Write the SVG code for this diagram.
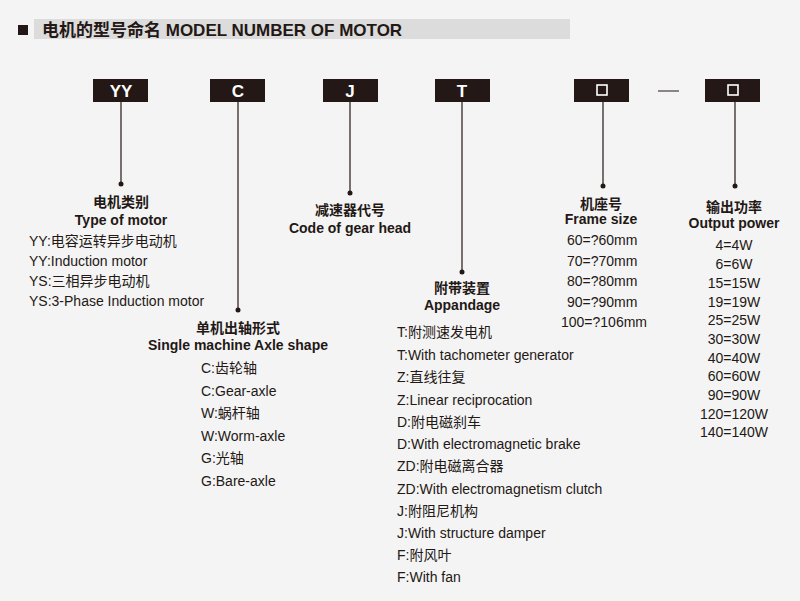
<svg xmlns="http://www.w3.org/2000/svg" width="800" height="601" viewBox="0 0 800 601">
<style>
text{font-family:"Liberation Sans","Noto Sans CJK SC",sans-serif;fill:#231815}
.b{font-weight:bold;font-size:14px}
.t{font-size:14px}
.bx{fill:#231815}
.bl{fill:#fff;font-weight:bold;font-size:17px;text-anchor:middle}
.ln{stroke:#231815;stroke-width:1.2;fill:none}
.c{text-anchor:middle}
</style>
<rect width="800" height="601" fill="#f4f4f4"/>
<rect x="18" y="25" width="10" height="10" fill="#231815"/>
<rect x="34" y="19" width="536" height="20" fill="#dcdcdc"/>
<text x="42" y="36" style="font-weight:bold;font-size:17px">电机的型号命名 MODEL NUMBER OF MOTOR</text>
<g id="connectors">
<path class="ln" d="M121 102V184M238 102V310M350 102V193M462 102V272M603 102V186M735 102V186M658 91H679"/>
<g fill="#231815"><circle cx="121" cy="184" r="2.5"/><circle cx="238" cy="310" r="2.5"/><circle cx="350" cy="193" r="2.5"/><circle cx="462" cy="272" r="2.5"/><circle cx="603" cy="186" r="2.5"/><circle cx="735" cy="186" r="2.5"/></g>
</g>
<g id="n-yy"><rect class="bx" x="93" y="79" width="55" height="23"/><text class="bl" x="121" y="97">YY</text>
<text class="b c" x="121" y="207">电机类别</text><text class="b c" x="121" y="225">Type of motor</text>
<text class="t" x="29" y="246">YY:电容运转异步电动机</text><text class="t" x="29" y="266">YY:Induction motor</text><text class="t" x="29" y="286">YS:三相异步电动机</text><text class="t" x="29" y="306">YS:3-Phase Induction motor</text></g>
<g id="n-c"><rect class="bx" x="210" y="79" width="55" height="23"/><text class="bl" x="238" y="97">C</text>
<text class="b c" x="238" y="333">单机出轴形式</text><text class="b c" x="238" y="350">Single machine Axle shape</text>
<text class="t" x="201" y="373">C:齿轮轴</text><text class="t" x="201" y="396">C:Gear-axle</text><text class="t" x="201" y="418">W:蜗杆轴</text><text class="t" x="201" y="441">W:Worm-axle</text><text class="t" x="201" y="463">G:光轴</text><text class="t" x="201" y="486">G:Bare-axle</text></g>
<g id="n-j"><rect class="bx" x="323" y="79" width="55" height="23"/><text class="bl" x="350" y="97">J</text>
<text class="b c" x="350" y="215">减速器代号</text><text class="b c" x="350" y="233">Code of gear head</text></g>
<g id="n-t"><rect class="bx" x="435" y="79" width="55" height="23"/><text class="bl" x="462" y="97">T</text>
<text class="b c" x="462" y="293">附带装置</text><text class="b c" x="462" y="310">Appandage</text>
<g class="t"><text class="t" x="397" y="337">T:附测速发电机</text><text class="t" x="397" y="360">T:With tachometer generator</text><text class="t" x="397" y="382">Z:直线往复</text><text class="t" x="397" y="405">Z:Linear reciprocation</text><text class="t" x="397" y="427">D:附电磁刹车</text><text class="t" x="397" y="449">D:With electromagnetic brake</text><text class="t" x="397" y="471">ZD:附电磁离合器</text><text class="t" x="397" y="494">ZD:With electromagnetism clutch</text><text class="t" x="397" y="516">J:附阻尼机构</text><text class="t" x="397" y="538">J:With structure damper</text><text class="t" x="397" y="560">F:附风叶</text><text class="t" x="397" y="582">F:With fan</text></g></g>
<g id="n-frame"><rect class="bx" x="574" y="79" width="55" height="23"/><rect x="597" y="85" width="10" height="10" fill="none" stroke="#fff" stroke-width="1.6"/>
<text class="b c" x="601" y="209">机座号</text><text class="b c" x="601" y="224">Frame size</text>
<g class="t"><text class="t" x="567" y="245">60=?60mm</text><text class="t" x="567" y="266">70=?70mm</text><text class="t" x="567" y="286">80=?80mm</text><text class="t" x="567" y="307">90=?90mm</text><text class="t" x="561" y="327">100=?106mm</text></g></g>
<g id="n-power"><rect class="bx" x="705" y="79" width="55" height="23"/><rect x="728" y="85" width="10" height="10" fill="none" stroke="#fff" stroke-width="1.6"/>
<text class="b c" x="734" y="212">输出功率</text><text class="b c" x="734" y="228">Output power</text>
<g class="t c"><text class="t c" x="734" y="250">4=4W</text><text class="t c" x="734" y="269">6=6W</text><text class="t c" x="734" y="288">15=15W</text><text class="t c" x="734" y="307">19=19W</text><text class="t c" x="734" y="325">25=25W</text><text class="t c" x="734" y="344">30=30W</text><text class="t c" x="734" y="363">40=40W</text><text class="t c" x="734" y="381">60=60W</text><text class="t c" x="734" y="400">90=90W</text><text class="t c" x="734" y="419">120=120W</text><text class="t c" x="734" y="437">140=140W</text></g></g>
</svg>
